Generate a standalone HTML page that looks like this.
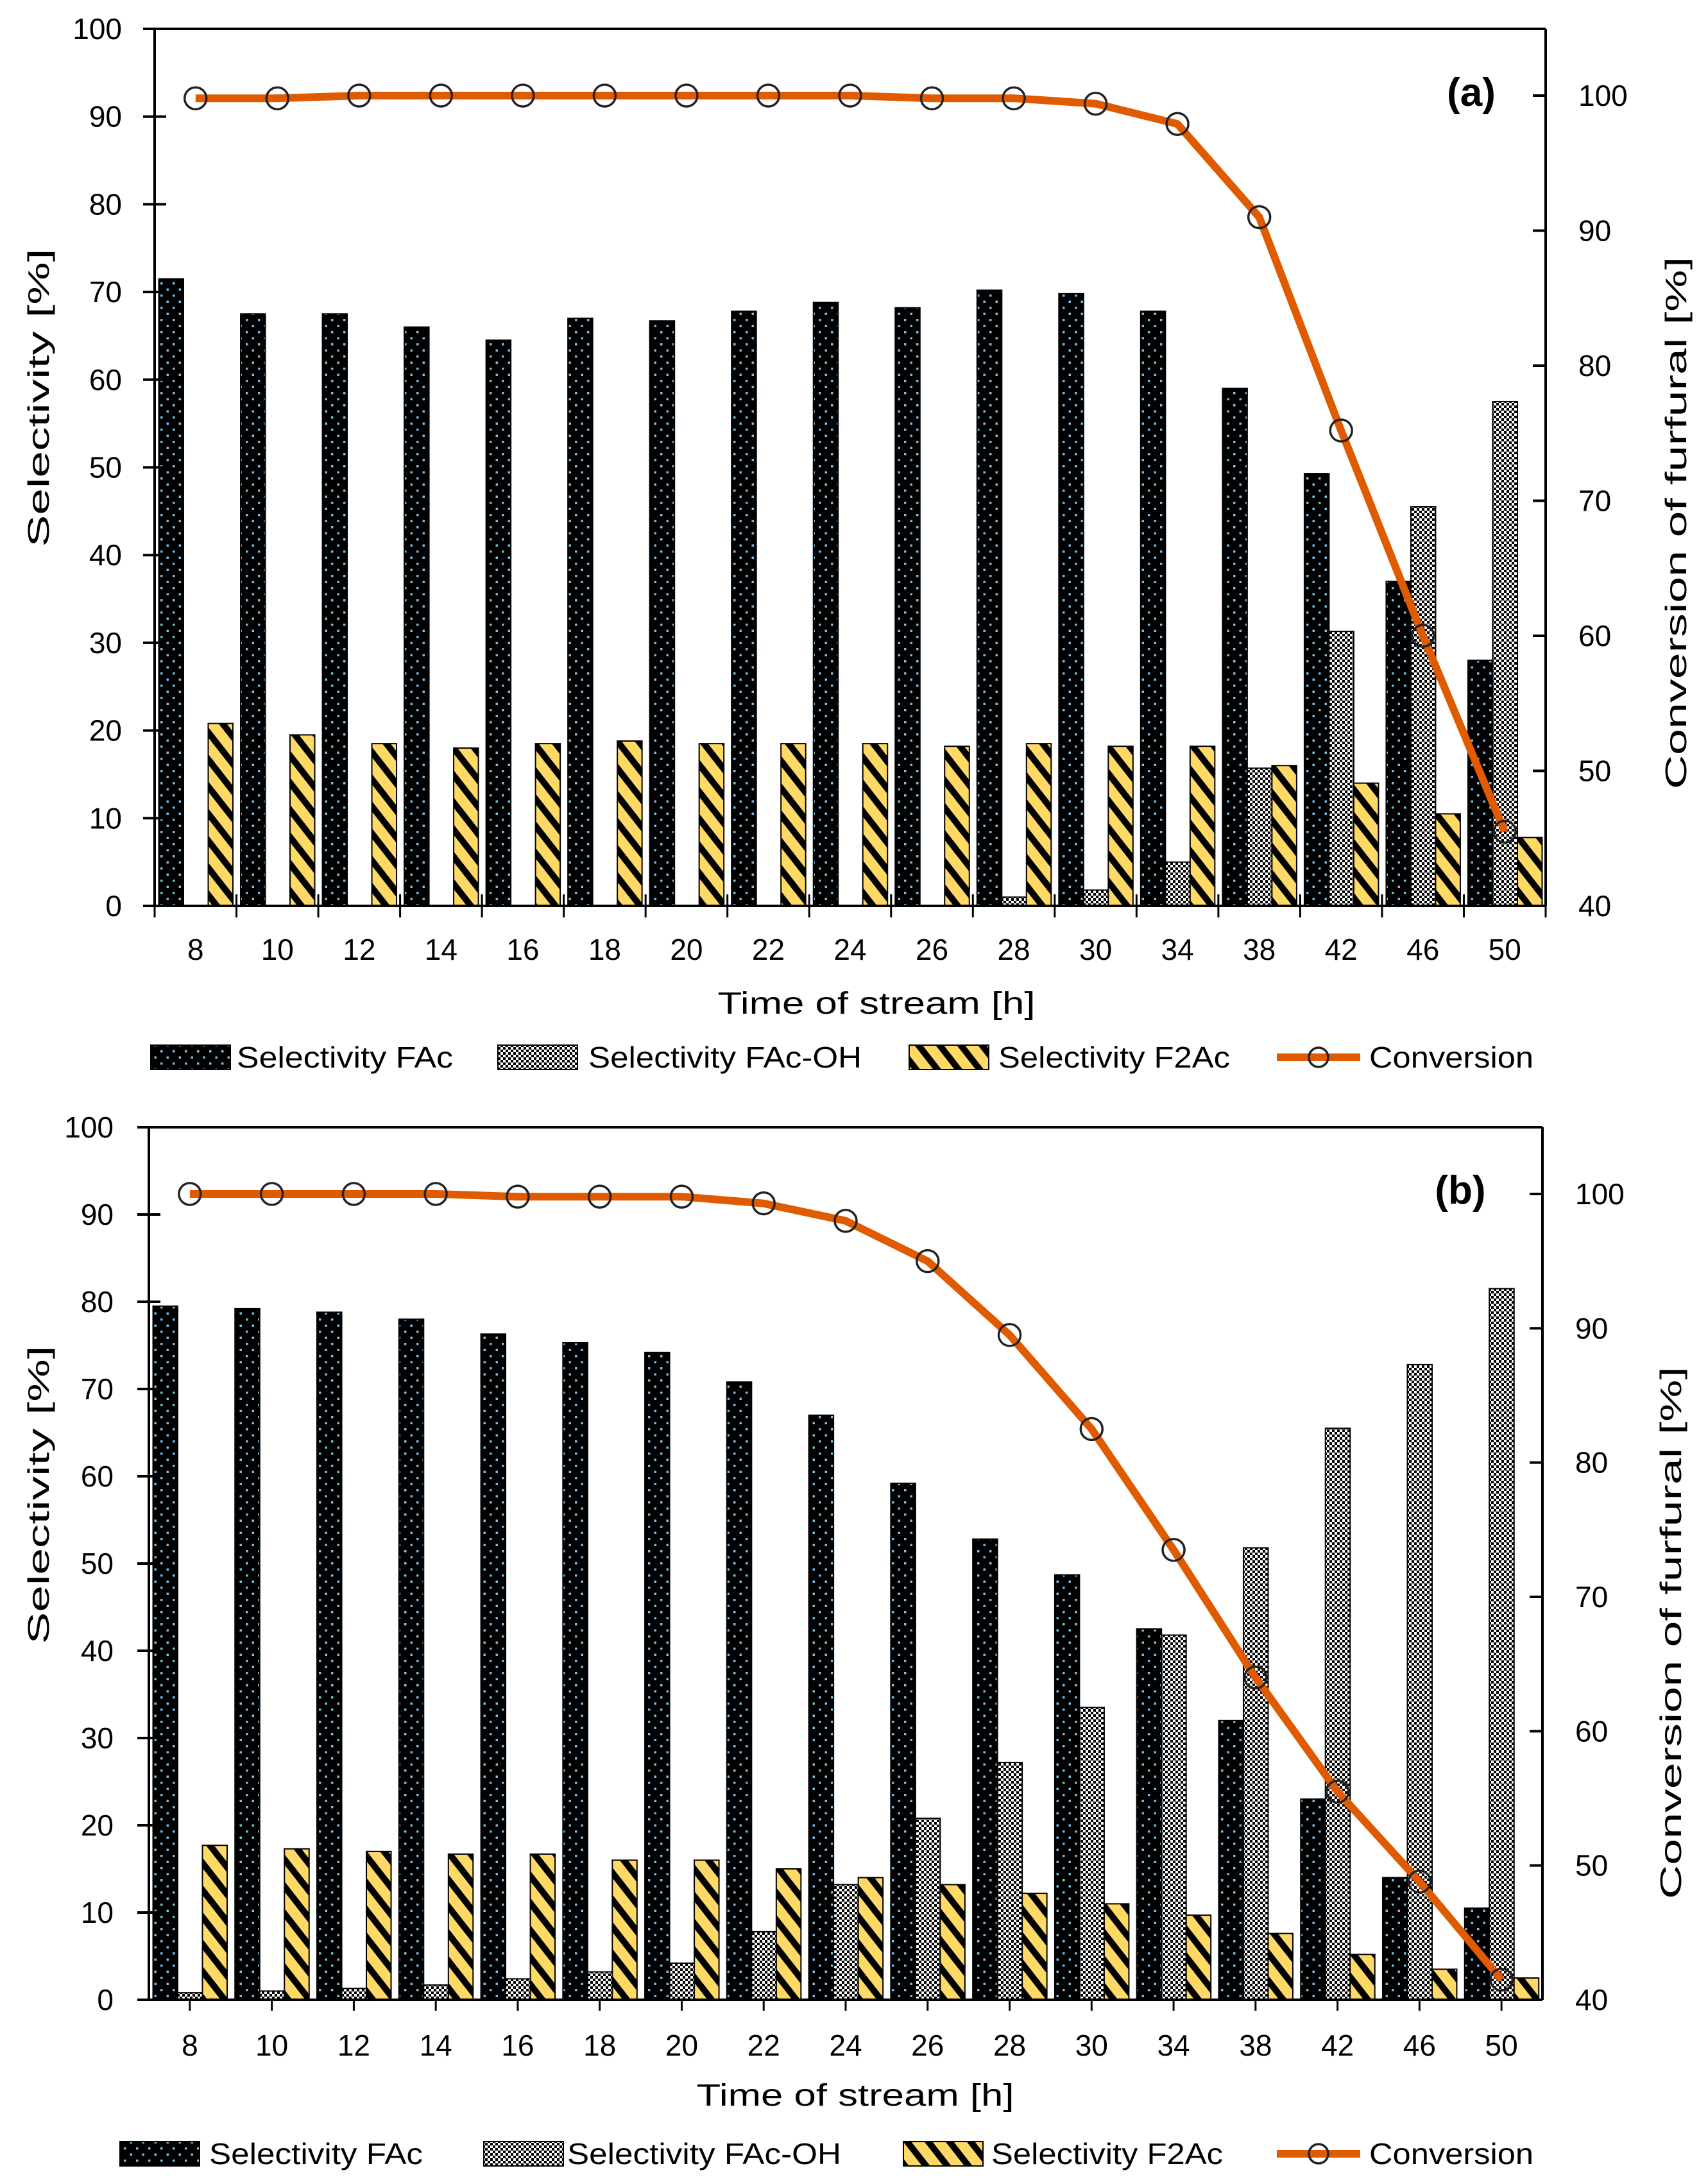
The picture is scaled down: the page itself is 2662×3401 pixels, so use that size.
<!DOCTYPE html>
<html><head><meta charset="utf-8"><style>
html,body{margin:0;padding:0;background:#fff;}
svg{display:block;font-family:"Liberation Sans",sans-serif;}
</style></head><body>
<svg id="fig" width="2662" height="3401" viewBox="0 0 2662 3401" xmlns="http://www.w3.org/2000/svg">
<defs>
<pattern id="pDots" patternUnits="userSpaceOnUse" width="19" height="19">
<rect width="19" height="19" fill="#000"/>
<rect x="3" y="3" width="3.5" height="3.5" fill="#7cbde6"/>
<rect x="12.5" y="12.5" width="3.5" height="3.5" fill="#7cbde6"/>
</pattern>
<pattern id="pCheck" patternUnits="userSpaceOnUse" width="8" height="8">
<rect width="8" height="8" fill="#fff"/>
<rect x="0" y="0" width="4" height="4" fill="#000"/>
<rect x="4" y="4" width="4" height="4" fill="#000"/>
</pattern>
<pattern id="pStripe" patternUnits="userSpaceOnUse" width="26" height="26" patternTransform="rotate(52)">
<rect width="26" height="26" fill="#ffd966"/>
<rect x="0" y="0" width="26" height="10" fill="#000"/>
</pattern>
</defs>
<g id="chartA"></g>
<g id="chartB"></g>
</svg>
<script>
const categories = ["8","10","12","14","16","18","20","22","24","26","28","30","34","38","42","46","50"];
const leftTicks = [0,10,20,30,40,50,60,70,80,90,100];
const rightTicks = [40,50,60,70,80,90,100];
const seriesNames = ["Selectivity FAc","Selectivity FAc-OH","Selectivity F2Ac","Conversion"];
const aFAc = [71.5,67.5,67.5,66,64.5,67,66.7,67.8,68.8,68.2,70.2,69.8,67.8,59,49.3,37,28];
const aFAcOH = [0,0,0,0,0,0,0,0,0,0,1,1.8,5,15.7,31.3,45.5,57.5];
const aF2Ac = [20.8,19.5,18.5,18,18.5,18.8,18.5,18.5,18.5,18.2,18.5,18.2,18.2,16,14,10.5,7.8];
const aConv = [99.8,99.8,100,100,100,100,100,100,100,99.8,99.8,99.4,97.9,91,75.2,60,45.5];
const bFAc = [79.5,79.2,78.8,78,76.3,75.3,74.2,70.8,67,59.2,52.8,48.7,42.5,32,23,14,10.5];
const bFAcOH = [0.8,1,1.3,1.7,2.4,3.2,4.2,7.8,13.2,20.8,27.2,33.5,41.8,51.8,65.5,72.8,81.5];
const bF2Ac = [17.7,17.3,17,16.7,16.7,16,16,15,14,13.2,12.2,11,9.7,7.6,5.2,3.5,2.5];
const bConv = [100,100,100,100,99.8,99.8,99.8,99.3,98,95,89.5,82.5,73.5,64,55.5,48.8,41.5];

const NS="http://www.w3.org/2000/svg";
function mk(parent,tag,attrs,text){const e=document.createElementNS(NS,tag);for(const k in attrs)e.setAttribute(k,attrs[k]);if(text!==undefined)e.textContent=text;parent.appendChild(e);return e;}

function drawChart(g,cfg,fac,oh,f2,conv){
  const x0=cfg.x0,x1=cfg.x1,yTop=cfg.yTop,yBot=cfg.yBot,yR100=cfg.yR100;
  const n=categories.length, cw=(x1-x0)/n;
  const yL=v=>yBot-(v/100)*(yBot-yTop);
  const yR=v=>yBot-(v-40)/60*(yBot-yR100);
  const xC=i=>x0+cw*(i+0.5);
  const bw=38.5, off=6.5;
  const fills=["url(#pDots)","url(#pCheck)","url(#pStripe)"];
  const sers=[fac,oh,f2];
  const bnames=["bar-fac","bar-fac-oh","bar-f2ac"];
  for(let s=0;s<3;s++){
    for(let i=0;i<n;i++){
      const v=sers[s][i]; const y=yL(v);
      const r=mk(g,"rect",{x:x0+cw*i+off+bw*s,y:y,width:bw,height:Math.max(0,yBot-y),fill:fills[s],stroke:"#000","stroke-width":2});
      
      
    }
  }
  const ax=mk(g,"g",{});
  
  
  mk(ax,"line",{x1:x0,y1:yTop,x2:x0,y2:yBot,stroke:"#000","stroke-width":4});
  mk(ax,"line",{x1:x0-18,y1:yTop,x2:x1,y2:yTop,stroke:"#000","stroke-width":4});
  mk(ax,"line",{x1:x1,y1:yTop,x2:x1,y2:yBot,stroke:"#000","stroke-width":4});
  mk(ax,"line",{x1:x0-18,y1:yBot,x2:x1,y2:yBot,stroke:"#000","stroke-width":4});
  leftTicks.forEach(t=>{
    const y=yL(t);
    mk(ax,"line",{x1:x0-18,y1:y,x2:x0+18,y2:y,stroke:"#000","stroke-width":4});
    const tx=mk(g,"text",{x:cfg.lLabX,y:y+16,"text-anchor":"end","font-size":46},String(t));
    
    
  });
  rightTicks.forEach(t=>{
    const y=yR(t);
    mk(ax,"line",{x1:x1-20,y1:y,x2:x1,y2:y,stroke:"#000","stroke-width":4});
    const tx=mk(g,"text",{x:cfg.rLabX,y:y+16,"font-size":46},String(t));
    
    
  });
  for(let i=0;i<n;i++){
    if(cfg.centerTicks){
      mk(ax,"line",{x1:xC(i),y1:yBot,x2:xC(i),y2:yBot+17,stroke:"#000","stroke-width":3});
    } else {
      mk(ax,"line",{x1:x0+cw*i,y1:yBot-18,x2:x0+cw*i,y2:yBot+18,stroke:"#000","stroke-width":3});
    }
    const tx=mk(g,"text",{x:xC(i),y:cfg.xLabY,"text-anchor":"middle","font-size":46},categories[i]);
    
    
  }
  if(!cfg.centerTicks) mk(ax,"line",{x1:x1,y1:yBot,x2:x1,y2:yBot+18,stroke:"#000","stroke-width":3});
  let d="";
  for(let i=0;i<n;i++) d+=(i?"L":"M")+xC(i).toFixed(1)+" "+yR(conv[i]).toFixed(1);
  const pl=mk(g,"path",{d:d,fill:"none",stroke:"#e05a00","stroke-width":12,"stroke-linejoin":"round"});
  
  
  for(let i=0;i<n;i++){
    const c=mk(g,"circle",{cx:xC(i),cy:yR(conv[i]),r:17,fill:"none",stroke:"#222","stroke-width":3.5});
    
    
  }
  let t=mk(g,"text",{x:0,y:0,transform:`translate(${cfg.lTitX},${cfg.lTitY}) rotate(-90)`,"text-anchor":"middle","font-size":46,textLength:465,lengthAdjust:"spacingAndGlyphs"},"Selectivity [%]");
  
  
  t=mk(g,"text",{x:0,y:0,transform:`translate(${cfg.rTitX},${cfg.rTitY}) rotate(-90)`,"text-anchor":"middle","font-size":46,textLength:830,lengthAdjust:"spacingAndGlyphs"},"Conversion of furfural [%]");
  
  
  t=mk(g,"text",{x:cfg.xTitX,y:cfg.xTitY,"text-anchor":"middle","font-size":48,textLength:495,lengthAdjust:"spacingAndGlyphs"},"Time of stream [h]");
  
  
  t=mk(g,"text",{x:cfg.panX,y:cfg.panY,"text-anchor":"middle","font-size":62,"font-weight":"bold"},cfg.panel);
  
  
  const lg=mk(g,"g",{});
  
  
  const ly=cfg.legY;
  for(let s=0;s<3;s++){
    const r=mk(lg,"rect",{x:cfg.legSw[s],y:ly-19,width:124,height:38,fill:fills[s],stroke:"#000","stroke-width":2});
    
    
  }
  mk(lg,"line",{x1:1990,y1:ly,x2:2120,y2:ly,stroke:"#e05a00","stroke-width":12});
  mk(lg,"circle",{cx:2055,cy:ly,r:15,fill:"none",stroke:"#222","stroke-width":3.5});
  for(let s=0;s<4;s++){
    const tx=mk(lg,"text",{x:cfg.legTx[s],y:ly+16,"font-size":46,textLength:cfg.legTw[s],lengthAdjust:"spacingAndGlyphs"},seriesNames[s]);
    
    
  }
}

drawChart(document.getElementById("chartA"),{x0:241,x1:2409,yTop:45,yBot:1412,yR100:149,centerTicks:false,
  lLabX:190,rLabX:2460,xLabY:1496,lTitX:76,lTitY:620,rTitX:2628,rTitY:815,xTitX:1366,xTitY:1580,panel:"(a)",panX:2293,panY:165,
  legY:1648,legSw:[235,776,1417],legTx:[369,917,1556,2134],legTw:[337,426,361,256]},aFAc,aFAcOH,aF2Ac,aConv);
drawChart(document.getElementById("chartB"),{x0:232,x1:2404,yTop:1757,yBot:3117,yR100:1861,centerTicks:true,
  lLabX:177,rLabX:2455,xLabY:3204,lTitX:76,lTitY:2330,rTitX:2620,rTitY:2545,xTitX:1333,xTitY:3282,panel:"(b)",panX:2276,panY:1876,
  legY:3357,legSw:[187,754,1408],legTx:[326,884,1545,2134],legTw:[333,427,361,256]},bFAc,bFAcOH,bF2Ac,bConv);
</script>
</body></html>
